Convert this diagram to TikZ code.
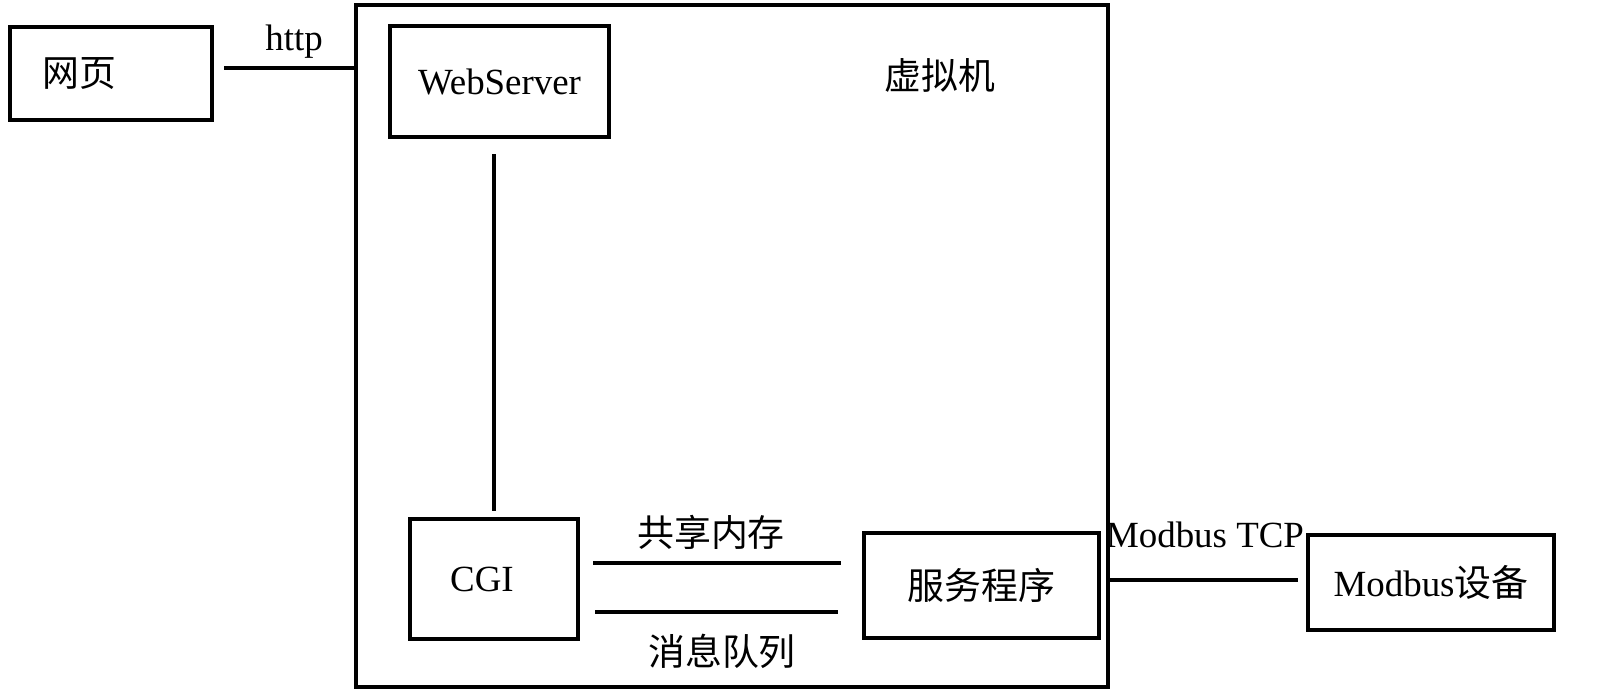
\documentclass[tikz,border=0pt]{standalone}
\usepackage{fontspec}
\setmainfont{Liberation Serif}
\newfontfamily\cjk{Noto Sans CJK SC}
\usepackage{tikz}

\begin{document}
\begin{tikzpicture}[x=0.02cm, y=-0.02cm,
    box/.style={draw, rectangle, line width=2.7pt, inner sep=0pt},
    link/.style={line width=2.7pt},
    every node/.style={font=\fontsize{21}{25}\selectfont}]
    \fill[white] (0,0) rectangle (1611,697);
    \useasboundingbox (0,0) rectangle (1611,697);

    \node (vm) [box, minimum width=752*0.02cm, minimum height=682*0.02cm] at (732,346) {};
    \node (vmlabel) at (940,75) {\cjk 虚拟机};
    \node (page) [box, minimum width=202*0.02cm, minimum height=93*0.02cm] at (111,73.5) {\hspace*{-1.28cm}\cjk 网页};
    \node (ws) [box, minimum width=219*0.02cm, minimum height=111*0.02cm] at (499.5,81.5) {WebServer};
    \node (cgi) [box, minimum width=168*0.02cm, minimum height=120*0.02cm] at (494,579) {\hspace*{-0.48cm}CGI};
    \node (srv) [box, minimum width=235*0.02cm, minimum height=105*0.02cm] at (981.5,585.5) {\cjk 服务程序};
    \node (dev) [box, minimum width=246*0.02cm, minimum height=95*0.02cm] at (1431,582.5) {Modbus\cjk 设备};

    % line end points
    \coordinate (httpend) at ([yshift=0.11cm]page.east);
    \coordinate (shmend) at ([yshift=0.32cm]cgi.east);
    \coordinate (mqend) at ([yshift=-0.66cm]cgi.east);
    \coordinate (tcpend) at ([yshift=0.05cm]dev.west);

    \draw[link, shorten <=0.2cm] (httpend) -- (vm.west |- httpend);
    \draw[link, shorten <=0.12cm, shorten >=0.3cm] (cgi.north) -- (cgi.north |- ws.south);
    \draw[link, shorten <=0.26cm, shorten >=0.42cm] (shmend) -- (srv.west |- shmend);
    \draw[link, shorten <=0.3cm, shorten >=0.48cm] (mqend) -- (srv.west |- mqend);
    \draw[link, shorten <=0.16cm] (tcpend) -- (vm.east |- tcpend);

    \node (http) at (294,42) {http};
    \node (shm) at (711,532) {\cjk 共享内存};
    \node (mq) at (722,651) {\cjk 消息队列};
    \node (tcp) at (1205,535) {Modbus TCP};
\end{tikzpicture}
\end{document}
